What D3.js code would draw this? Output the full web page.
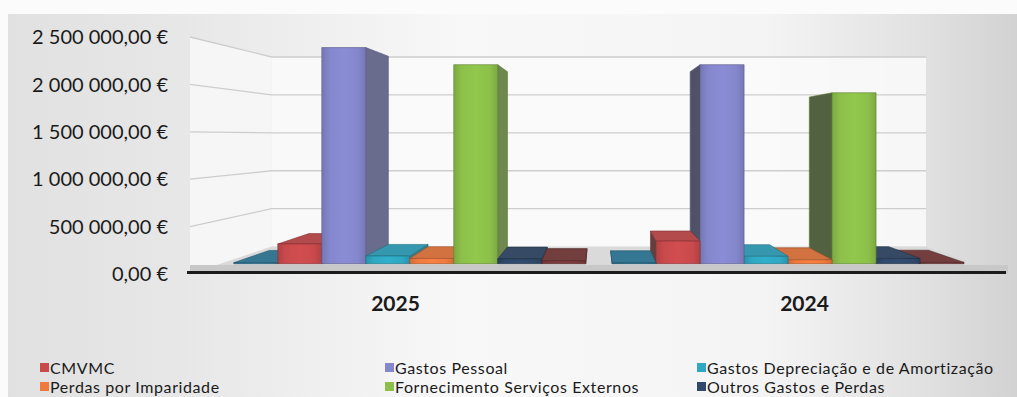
<!DOCTYPE html>
<html>
<head>
<meta charset="utf-8">
<script src="https://cdn.jsdelivr.net/npm/d3@7"></script>
<style>
  html, body { margin: 0; padding: 0; background: #fff; }
  svg { display: block; }
  text { font-family: Lato, "Open Sans", sans-serif; fill: #1a1a1a; }
</style>
</head>
<body>
<svg id="chart" width="1017" height="397"></svg>
<script>
// ---- data ----
const categories = ["2025", "2024"];
const seriesKeys = ["s1", "cmvmc", "pessoal", "deprec", "perdas", "fse", "outros", "s8"];
const seriesLabels = ["", "CMVMC", "Gastos Pessoal", "Gastos Depreciação e de Amortização",
                      "Perdas por Imparidade", "Fornecimento Serviços Externos", "Outros Gastos e Perdas", ""];
const values2025 = [12000, 225000, 2465000, 88000, 60000, 2270000, 55000, 35000];
const values2024 = [8000, 258000, 2270000, 85000, 45000, 1950000, 60000, 15000];
const yTicks = [0, 500000, 1000000, 1500000, 2000000, 2500000];
const legendKeys = ["cmvmc", "pessoal", "deprec", "perdas", "fse", "outros"];

// ---- styles ----
const seriesColors = ["#2f80a2", "#c94a4c", "#8487cc", "#2fa8c3", "#f07a3e", "#8cc04a", "#30496a", "#7a3a3a"];

const W = 1017, H = 397;
const svg = d3.select("#chart");
const defs = svg.append("defs");

// perspective: vanishing point and depth factors
const cx = 598, cy = 137;
const F_FRONT = 1, F_BAR1 = 0.925, F_BAR2 = 0.835, F_BACK = 0.8;
const P = (X, Y, f) => [cx + (X - cx) * f, cy + (Y - cy) * f];
const poly = pts => pts.map(p => p.join(",")).join(" ");

const y = d3.scaleLinear().domain([0, 2500000]).range([274, 37]);
const Y0 = y(0), YT = y(2500000);
const x0 = d3.scaleBand().domain(categories).range([190, 1008]);
const x1 = d3.scaleBand().domain(seriesKeys).range([0, x0.bandwidth()]).paddingOuter(0.3).paddingInner(0);
const colorOf = d3.scaleOrdinal().domain(seriesKeys).range(seriesColors);
const valueOf = { "2025": values2025, "2024": values2024 };

// ---- background ----
const bg = defs.append("linearGradient").attr("id", "bg").attr("x1", 0).attr("x2", 1).attr("y1", 0).attr("y2", 0);
[[0, "#e1e1e1"], [0.17, "#e7e7e7"], [0.45, "#f8f8f8"], [0.75, "#f4f4f4"], [0.9, "#e2e2e2"], [1, "#d2d2d2"]]
  .forEach(([o, c]) => bg.append("stop").attr("offset", o).attr("stop-color", c));
svg.append("rect").attr("width", W).attr("height", H).attr("fill", "#fbfbfb");
svg.append("rect").attr("x", 8).attr("y", 14).attr("width", W - 8).attr("height", H - 14).attr("fill", "url(#bg)");

const [L, R] = x0.range();

// walls
svg.append("polygon")
  .attr("points", poly([P(L, YT, F_FRONT), P(L, YT, F_BACK), P(L, Y0, F_BACK), P(L, Y0, F_FRONT)]))
  .attr("fill", "#f6f6f6");
svg.append("polygon")
  .attr("points", poly([P(L, YT, F_BACK), P(R, YT, F_BACK), P(R, Y0, F_BACK), P(L, Y0, F_BACK)]))
  .attr("fill", "#fafafa").attr("fill-opacity", 0.85);

// gridlines on left wall and back wall
const grid = svg.append("g").attr("stroke", "#cdcdcd").attr("stroke-width", 1.3).attr("fill", "none");
yTicks.filter(v => v > 0).forEach(v => {
  grid.append("polyline").attr("points", poly([P(L, y(v), F_FRONT), P(L, y(v), F_BACK), P(R, y(v), F_BACK)]));
});

// floor
svg.append("polygon")
  .attr("points", poly([P(L, Y0, F_FRONT), P(R, Y0, F_FRONT), P(R, Y0, F_BACK), P(L, Y0, F_BACK)]))
  .attr("fill", "#dadada");
svg.append("polygon")
  .attr("points", poly([P(L, Y0, F_FRONT), P(R, Y0, F_FRONT), P(R, Y0 - 9, F_FRONT), P(L, Y0 - 9, F_FRONT)]))
  .attr("fill", "#c8c8c8");

// ---- bars ----
const bars = [];
categories.forEach(c => {
  seriesKeys.forEach((k, i) => {
    const X0 = x0(c) + x1(k), X1 = X0 + x1.bandwidth();
    bars.push({ c, k, X0, X1, Yt: y(valueOf[c][i]), color: colorOf(k) });
  });
});
bars.sort((a, b) => Math.abs((b.X0 + b.X1) / 2 - cx) - Math.abs((a.X0 + a.X1) / 2 - cx));

seriesKeys.forEach(k => {
  const base = d3.color(colorOf(k));
  const g = defs.append("linearGradient").attr("id", "front-" + k).attr("x1", 0).attr("x2", 1).attr("y1", 0).attr("y2", 0);
  [[0, base.darker(0.35)], [0.18, base], [0.5, base.brighter(0.12)], [0.82, base], [1, base.darker(0.35)]]
    .forEach(([o, c]) => g.append("stop").attr("offset", o).attr("stop-color", c.formatHex()));
});

const barLayer = svg.append("g");
bars.forEach(b => {
  const g = barLayer.append("g");
  const edge = d3.color(b.color).darker(1.2).formatHex();
  const sideR = d3.interpolateRgb(b.color, "#505050")(0.5);
  const sideL = d3.interpolateRgb(b.color, "#3c3c3c")(0.72);
  const top = d3.interpolateRgb(b.color, "#505050")(0.18);
  if (b.X1 < cx) {
    g.append("polygon").attr("points", poly([P(b.X1, b.Yt, F_BAR1), P(b.X1, b.Yt, F_BAR2), P(b.X1, Y0, F_BAR2), P(b.X1, Y0, F_BAR1)]))
      .attr("fill", sideR).attr("stroke", edge).attr("stroke-width", 0.6);
  } else if (b.X0 > cx) {
    g.append("polygon").attr("points", poly([P(b.X0, b.Yt, F_BAR1), P(b.X0, b.Yt, F_BAR2), P(b.X0, Y0, F_BAR2), P(b.X0, Y0, F_BAR1)]))
      .attr("fill", sideL).attr("stroke", edge).attr("stroke-width", 0.6);
  }
  if (b.Yt > cy) {
    g.append("polygon").attr("points", poly([P(b.X0, b.Yt, F_BAR1), P(b.X1, b.Yt, F_BAR1), P(b.X1, b.Yt, F_BAR2), P(b.X0, b.Yt, F_BAR2)]))
      .attr("fill", top).attr("stroke", edge).attr("stroke-width", 0.6);
  }
  g.append("polygon").attr("points", poly([P(b.X0, b.Yt, F_BAR1), P(b.X1, b.Yt, F_BAR1), P(b.X1, Y0, F_BAR1), P(b.X0, Y0, F_BAR1)]))
    .attr("fill", `url(#front-${b.k})`).attr("stroke", edge).attr("stroke-width", 0.6);
});

// floor front edge
svg.append("line").attr("x1", L - 3).attr("x2", R - 2).attr("y1", Y0 - 1.5).attr("y2", Y0 - 1.5)
  .attr("stroke", "#1b1b1b").attr("stroke-width", 3);

// ---- value axis labels ----
const fmt = d3.formatLocale({ decimal: ",", thousands: "\u00a0", grouping: [3], currency: ["", "\u00a0€"] }).format("$,.2f");
svg.append("g").selectAll("text").data(yTicks).join("text")
  .attr("x", 168).attr("y", d => y(d)).attr("dy", "0.36em")
  .attr("text-anchor", "end").attr("font-size", 20).attr("fill", "#222")
  .text(d => fmt(d));

// ---- category labels ----
svg.append("g").selectAll("text").data(categories).join("text")
  .attr("x", d => x0(d) + x0.bandwidth() / 2 + 1).attr("y", 311)
  .attr("text-anchor", "middle").attr("font-size", 21).attr("font-weight", 700)
  .text(d => d);

// ---- legend ----
const legendX = [40, 385, 697], legendY = [368, 387];
const leg = svg.append("g").selectAll("g").data(legendKeys).join("g")
  .attr("transform", (k, i) => `translate(${legendX[i % 3]},${legendY[Math.floor(i / 3)]})`);
leg.append("rect").attr("x", 0).attr("y", -5).attr("width", 9).attr("height", 9).attr("fill", k => colorOf(k));
leg.append("text").attr("x", 10).attr("dy", "0.35em").attr("font-size", 16).attr("letter-spacing", 0.6)
  .attr("fill", "#222")
  .text(k => seriesLabels[seriesKeys.indexOf(k)]);
</script>
</body>
</html>
